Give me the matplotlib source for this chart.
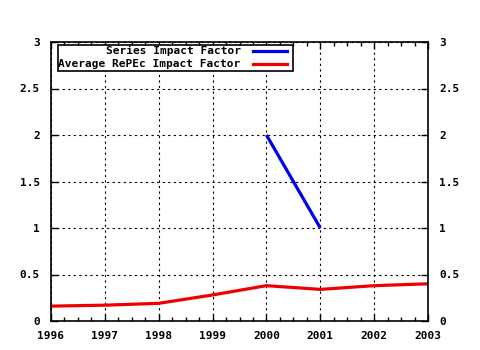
import matplotlib
matplotlib.use("Agg")
import matplotlib.pyplot as plt
from matplotlib.patches import Rectangle
from matplotlib.lines import Line2D

# ---- data -----------------------------------------------------------------
years = [1996, 1997, 1998, 1999, 2000, 2001, 2002, 2003]
avg_repec = [0.16, 0.17, 0.19, 0.28, 0.38, 0.34, 0.38, 0.40]
series_years = [2000, 2001]
series_if = [2.0, 1.0]
y_ticks = [0, 0.5, 1, 1.5, 2, 2.5, 3]
y_labels = ["0", "0.5", "1", "1.5", "2", "2.5", "3"]
legend_labels = ["Series Impact Factor", "Average RePEc Impact Factor"]

BLUE, RED = "#0000ee", "#ee0000"
FONT = dict(family="DejaVu Sans Mono", weight="bold", size=8)

fig = plt.figure(figsize=(4.8, 3.5), dpi=100)
ax = fig.add_axes([51 / 480, 29 / 350, 377 / 480, 279 / 350])

ax.plot(series_years, series_if, color=BLUE, lw=2.3, solid_capstyle="butt")
ax.plot(years, avg_repec, color=RED, lw=2.3, solid_capstyle="butt")

ax.set_xlim(1996, 2003)
ax.set_ylim(0, 3)
ax.set_xticks(years)
ax.set_xticks([y + q / 4 for y in years[:-1] for q in (1, 2, 3)], minor=True)
ax.set_yticks(y_ticks)
ax.set_yticklabels(y_labels)
ax.tick_params(which="both", direction="in", top=True, right=True,
               labelright=True, width=1, color="black")
ax.tick_params(axis="y", which="major", pad=8)
ax.tick_params(axis="x", which="major", pad=7)
ax.tick_params(which="major", length=5)
ax.tick_params(which="minor", length=3)
for lab in ax.get_xticklabels() + ax.get_yticklabels():
    lab.set(**FONT)
ax.grid(True, which="major", ls=(0, (2, 3)), color="black", lw=0.8)
for s in ax.spines.values():
    s.set_linewidth(1.2)

# gnuplot-style key: right-aligned text, sample line on the right
ax.add_patch(Rectangle((0.019, 0.896), 0.623, 0.093, transform=ax.transAxes,
                       fill=True, facecolor="white", edgecolor="black",
                       lw=1.2, zorder=5))
for yy, lab, col in [(0.968, legend_labels[0], BLUE), (0.921, legend_labels[1], RED)]:
    ax.text(0.503, yy, lab, transform=ax.transAxes, ha="right", va="center",
            zorder=6, **FONT)
    ax.add_line(Line2D([0.536, 0.626], [yy, yy], transform=ax.transAxes,
                       color=col, lw=2.3, zorder=6))

fig.savefig("out.png", dpi=100)
